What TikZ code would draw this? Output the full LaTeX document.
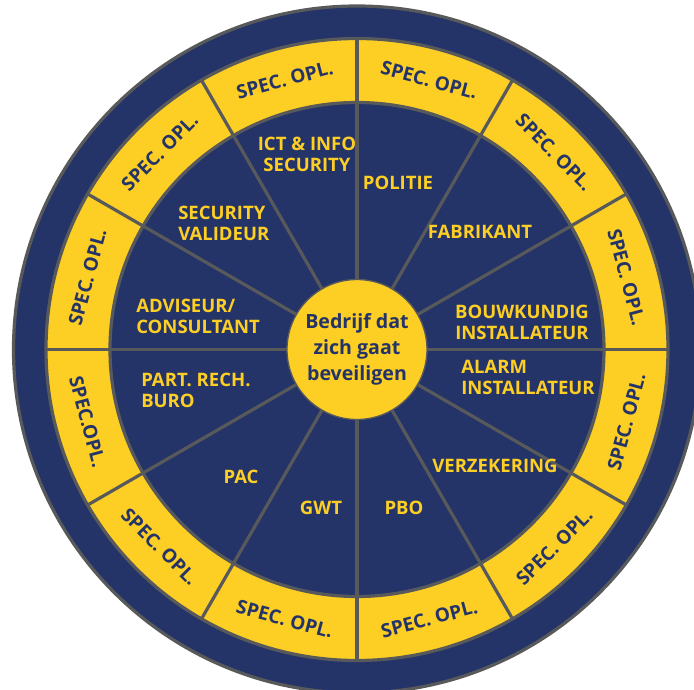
\documentclass[tikz,border=0pt]{standalone}
\usepackage{fontspec}
\setmainfont{Open Sans}
\definecolor{navy}{RGB}{36,52,104}
\definecolor{sunyellow}{RGB}{253,206,36}
\definecolor{linegray}{RGB}{88,89,91}

\begin{document}
\begin{tikzpicture}[x=0.75pt, y=0.75pt,
  spoke/.style={draw=linegray, line width=2.4pt},
  ring/.style={draw=linegray, line width=2.4pt},
  ringlabel/.style={font=\fontsize{14.3}{15}\selectfont\bfseries, text=navy, inner sep=0pt},
  sectorlabel/.style={font=\fontsize{13.9}{15.75}\selectfont\bfseries, text=sunyellow, inner sep=0pt}]

  \clip (-357,-340.5) rectangle (337,349.5);
  \fill[white] (-357,-340.5) rectangle (337,349.5);

  % rings
  \filldraw[ring, fill=navy] (0,0) circle (343.5);
  \filldraw[ring, fill=sunyellow] (0,0) circle (311);
  \filldraw[ring, fill=navy] (0,0) circle (247);
  \foreach \a in {0,30,...,330}
    \draw[spoke] (0,0) -- (\a:311);

  % centre
  \node[circle, fill=sunyellow, draw=linegray, line width=1pt, minimum size=105pt, inner sep=0pt,
    align=center, text=navy, font=\fontsize{14.7}{19.5}\selectfont\bfseries] (kern) at (0,0)
    {Bedrijf dat\\zich gaat\\beveiligen};

  % outer ring labels
  \foreach \a in {15,45,...,165}
    \node[ringlabel, rotate=\a-90] (opl\a) at (\a:279) {SPEC. OPL.};
  \foreach \a/\t in {195/SPEC.OPL., 225/SPEC. OPL., 255/SPEC. OPL., 285/SPEC. OPL., 315/SPEC. OPL., 345/SPEC. OPL.}
    \node[ringlabel, rotate=\a+90] (opl\a) at (\a:279) {\t};

  % sector labels
  \node[sectorlabel, align=center] (ict) at (-50,195.5) {ICT \& INFO\\SECURITY};
  \node[sectorlabel] (politie) at (41,166.5) {POLITIE};
  \node[sectorlabel] (fabrikant) at (123,117.5) {FABRIKANT};
  \node[sectorlabel, align=left, anchor=west] (valideur) at (-179,126) {SECURITY\\VALIDEUR};
  \node[sectorlabel, align=left, anchor=west] (adviseur) at (-221,33) {ADVISEUR/\\CONSULTANT};
  \node[sectorlabel, align=center] (bouwkundig) at (165,27) {BOUWKUNDIG\\INSTALLATEUR};
  \node[sectorlabel, align=left, anchor=west] (alarm) at (104,-27.5) {ALARM\\INSTALLATEUR};
  \node[sectorlabel, align=left, anchor=west] (buro) at (-216,-40.5) {PART. RECH.\\BURO};
  \node[sectorlabel] (pac) at (-116,-127.5) {PAC};
  \node[sectorlabel] (gwt) at (-36,-158.5) {GWT};
  \node[sectorlabel] (pbo) at (47,-158.5) {PBO};
  \node[sectorlabel] (verzekering) at (138,-116.5) {VERZEKERING};
\end{tikzpicture}
\end{document}
